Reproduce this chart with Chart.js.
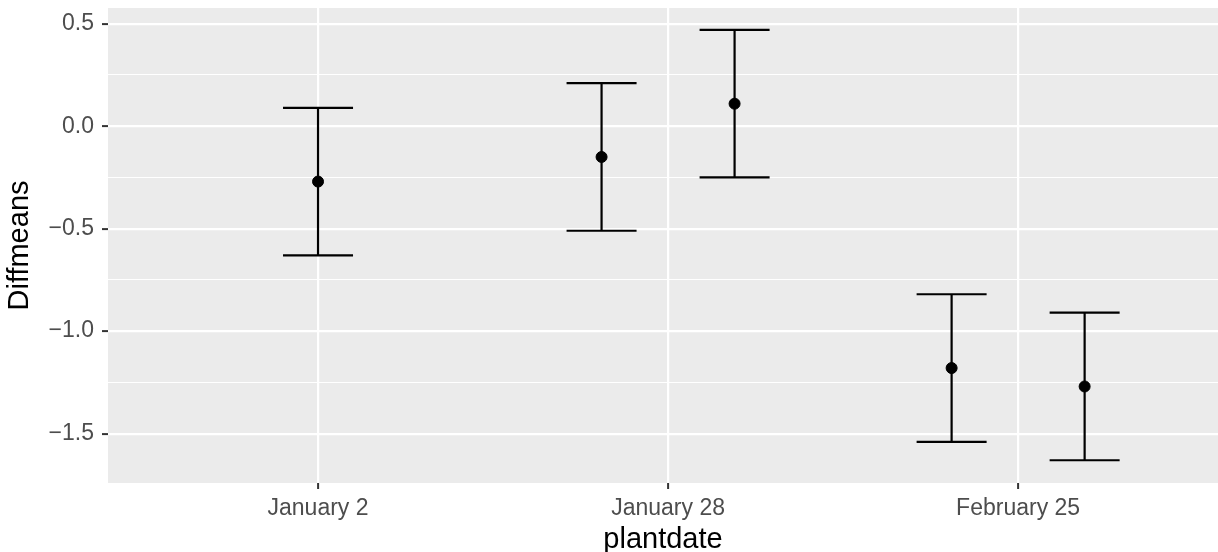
<!DOCTYPE html>
<html lang="en">
<head>
    <meta charset="UTF-8">
    <title>Diffmeans by plantdate</title>
    <script src="https://cdn.jsdelivr.net/npm/chart.js"></script>
    <style>
        body {
            margin: 0;
            padding: 0;
            background: #fff;
        }
        .chart-box {
            width: 1218px;
            height: 552px;
        }
    </style>
</head>
<body>

<div class="chart-box">
    <canvas id="diffChart" width="1218" height="552"></canvas>
</div>

<script>
    // categories on the x axis
    const plantdates = ['January 2', 'January 28', 'February 25'];

    // one entry per point: which plantdate, mean and interval
    const dateIndex = [0, 1, 1, 2, 2];
    const diffmeans = [-0.27, -0.15, 0.11, -1.18, -1.27];
    const lower = [-0.63, -0.51, -0.25, -1.54, -1.63];
    const upper = [0.09, 0.21, 0.47, -0.82, -0.91];

    // labelled y ticks
    const yTicks = [-1.5, -1.0, -0.5, 0.0, 0.5];

    const dodgeStep = 0.38;
    const capHalf = 0.1;

    // dodge points that share a plantdate
    const points = diffmeans.map((m, i) => {
        const same = dateIndex.filter(d => d === dateIndex[i]).length;
        const rank = dateIndex.slice(0, i).filter(d => d === dateIndex[i]).length;
        return { x: dateIndex[i] + 1 + (rank - (same - 1) / 2) * dodgeStep, y: m, lo: lower[i], hi: upper[i] };
    });

    // minor grid lines halfway between labelled ticks
    const minorTicks = yTicks.slice(1).map((v, i) => (v + yTicks[i]) / 2);

    const panelBg = {
        id: 'panelBg',
        beforeDraw(chart) {
            const a = chart.chartArea;
            const ctx = chart.ctx;
            ctx.save();
            ctx.fillStyle = '#EBEBEB';
            ctx.fillRect(a.left, a.top, a.right - a.left, a.bottom - a.top);
            ctx.restore();
        }
    };

    const errorBars = {
        id: 'errorBars',
        beforeDatasetsDraw(chart) {
            const xs = chart.scales.x, ys = chart.scales.y;
            const ctx = chart.ctx;
            ctx.save();
            ctx.strokeStyle = '#000';
            ctx.lineWidth = 2.2;
            points.forEach(p => {
                const x = xs.getPixelForValue(p.x);
                const xl = xs.getPixelForValue(p.x - capHalf);
                const xr = xs.getPixelForValue(p.x + capHalf);
                const yl = ys.getPixelForValue(p.lo);
                const yh = ys.getPixelForValue(p.hi);
                ctx.beginPath();
                ctx.moveTo(x, yl); ctx.lineTo(x, yh);
                ctx.moveTo(xl, yl); ctx.lineTo(xr, yl);
                ctx.moveTo(xl, yh); ctx.lineTo(xr, yh);
                ctx.stroke();
            });
            ctx.restore();
        }
    };

    const font = 'Liberation Sans, Arial, sans-serif';

    new Chart(document.getElementById('diffChart'), {
        type: 'scatter',
        data: {
            datasets: [{
                data: points,
                backgroundColor: '#000',
                borderColor: '#000',
                pointRadius: 5.5,
                pointHoverRadius: 5.5
            }]
        },
        options: {
            responsive: false,
            animation: false,
            events: [],
            layout: { autoPadding: false, padding: { top: 8, right: 0, left: 0, bottom: 0 } },
            plugins: {
                legend: { display: false },
                tooltip: { enabled: false }
            },
            scales: {
                x: {
                    type: 'linear',
                    min: 0.4,
                    max: 3.571,
                    afterBuildTicks(scale) {
                        scale.ticks = plantdates.map((_, i) => ({ value: i + 1 }));
                    },
                    afterFit(scale) {
                        scale.height = 69;
                        scale.paddingLeft = 0;
                        scale.paddingRight = 0;
                    },
                    ticks: {
                        autoSkip: false,
                        maxRotation: 0,
                        padding: 6,
                        color: '#4D4D4D',
                        font: { family: font, size: 23 },
                        callback: v => plantdates[v - 1]
                    },
                    grid: {
                        color: '#FFFFFF',
                        lineWidth: 2.2,
                        tickLength: 6,
                        tickColor: '#333333',
                        tickWidth: 2
                    },
                    border: { display: false },
                    title: {
                        display: true,
                        text: 'plantdate',
                        color: '#000',
                        padding: 0,
                        font: { family: font, size: 29, lineHeight: 0.8 }
                    }
                },
                y: {
                    min: -1.741,
                    max: 0.577,
                    afterBuildTicks(scale) {
                        scale.ticks = yTicks.map(v => ({ value: v, minor: false }))
                            .concat(minorTicks.map(v => ({ value: v, minor: true })))
                            .sort((a, b) => a.value - b.value);
                    },
                    afterFit(scale) {
                        scale.width = 108;
                        scale.paddingTop = 0;
                        scale.paddingBottom = 0;
                    },
                    ticks: {
                        autoSkip: false,
                        padding: 8,
                        color: '#4D4D4D',
                        font: { family: font, size: 23 },
                        callback(v, i, ticks) {
                            if (ticks[i].minor) return '';
                            return v.toFixed(1).replace('-', '\u2212');
                        }
                    },
                    grid: {
                        color: '#FFFFFF',
                        lineWidth: c => (c.tick && c.tick.minor) ? 1.1 : 2.2,
                        tickLength: 6,
                        tickColor: c => (c.tick && c.tick.minor) ? 'rgba(0,0,0,0)' : '#333333',
                        tickWidth: 2
                    },
                    border: { display: false },
                    title: {
                        display: true,
                        text: 'Diffmeans',
                        color: '#000',
                        padding: { top: 3, bottom: 0 },
                        font: { family: font, size: 29, lineHeight: 1.2 }
                    }
                }
            }
        },
        plugins: [panelBg, errorBars]
    });
</script>

</body>
</html>
